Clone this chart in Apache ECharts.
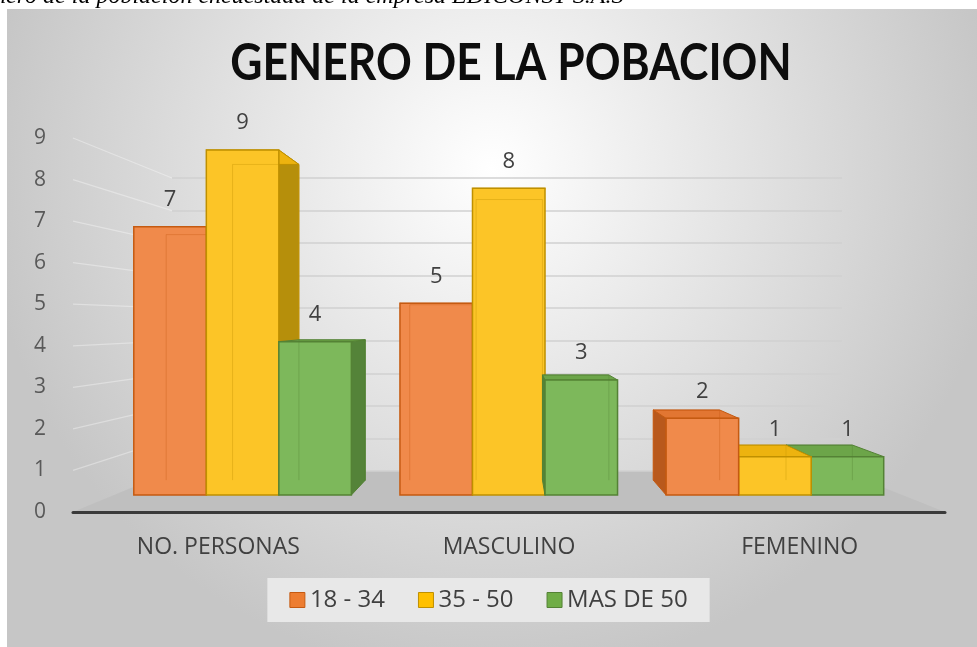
<!DOCTYPE html>
<html>
<head>
<meta charset="utf-8">
<script src="https://cdn.jsdelivr.net/npm/echarts@6/dist/echarts.min.js"></script>
<style>
  html, body { margin: 0; padding: 0; background: #fff; }
  #chart { width: 977px; height: 647px; }
</style>
</head>
<body>
<div id="chart"></div>
<script>
// datos del grafico
const categories = ['NO. PERSONAS', 'MASCULINO', 'FEMENINO']
const ageGroups = ['18 - 34', '35 - 50', 'MAS DE 50']
const joven = [7, 5, 2]      // 18 - 34
const adulto = [9, 8, 1]     // 35 - 50
const mayor = [4, 3, 1]      // MAS DE 50
const yMin = 0
const yMax = 9
const yStep = 1

const seriesValues = [joven, adulto, mayor]

// colores estilo excel 3D
const palette = [
  { front: '#F08A4B', side: '#B9591C', top: '#E27632', edge: '#C55A11', legend: '#ED7D31' },
  { front: '#FCC527', side: '#B68F0B', top: '#EDB30F', edge: '#BF9000', legend: '#FFC000' },
  { front: '#7DB85B', side: '#548339', top: '#6CA549', edge: '#548235', legend: '#70AD47' }
]

// planos: frente (ejes), barras, pared de fondo
const FRONT = { left: 73, right: 945, y0: 512, yTop: 138 }
const BARS = { left: 109.5, right: 908, y0: 495, yTop: 150 }
const BACK = { left: 172, right: 842, y0: 471, yTop: 178 }
const VP = [515, 320]     // punto de fuga
const DEPTH = 0.085
const BAR_FRAC = 0.2725
const FONT = '"Open Sans", "Noto Sans", sans-serif'

function gridOf (p) {
  return { left: p.left, width: p.right - p.left, top: p.yTop, height: p.y0 - p.yTop }
}

function recede (pt) {
  return [pt[0] + DEPTH * (VP[0] - pt[0]), pt[1] + DEPTH * (VP[1] - pt[1])]
}

function makeRender (k) {
  return function (params, api) {
    const cat = api.value(0)
    const v = api.value(1)
    const base = api.coord([cat, 0])
    const top = api.coord([cat, v])
    const band = api.size([1, 0])[0]
    const w = band * BAR_FRAC
    const x0 = base[0] + (k - 1.5) * w
    const x1 = x0 + w
    const yb = base[1]
    const yt = top[1]
    const c = palette[k]
    // orden de dibujo segun lado del punto de fuga
    const order = (base[0] < VP[0] + 10) ? k : 2 - k
    const z = order * 10

    const fTL = [x0, yt], fTR = [x1, yt], fBR = [x1, yb], fBL = [x0, yb]
    const bTL = recede(fTL), bTR = recede(fTR), bBR = recede(fBR), bBL = recede(fBL)

    const children = []
    if (bTR[0] > x1) {
      children.push({ type: 'polygon', z2: z + 1, shape: { points: [fTR, bTR, bBR, fBR] },
        style: { fill: c.side, stroke: c.edge, lineWidth: 1 } })
    }
    if (bTL[0] < x0) {
      children.push({ type: 'polygon', z2: z + 1, shape: { points: [fTL, bTL, bBL, fBL] },
        style: { fill: c.side, stroke: c.edge, lineWidth: 1 } })
    }
    children.push({ type: 'polygon', z2: z + 2, shape: { points: [fTL, fTR, bTR, bTL] },
      style: { fill: c.top, stroke: c.edge, lineWidth: 1 } })
    children.push({ type: 'rect', z2: z + 3, shape: { x: x0, y: yt, width: w, height: yb - yt },
      style: { fill: c.front, stroke: c.edge, lineWidth: 1.5 } })
    // aristas traseras vistas a traves de la barra
    children.push({ type: 'polyline', z2: z + 4, shape: { points: [bBL, bTL, bTR, bBR] },
      style: { stroke: c.edge, lineWidth: 1, opacity: 0.35, fill: null } })
    children.push({ type: 'text', z2: z + 5, style: {
      text: String(v), x: (x0 + x1) / 2, y: yt - 27, align: 'center', verticalAlign: 'middle',
      fill: '#404040', font: '22px ' + FONT } })
    return { type: 'group', children: children }
  }
}

const chart = echarts.init(document.getElementById('chart'))

// fondo, piso, pared lateral, titulo y leyenda de figura
const extras = []
extras.push({
  type: 'rect', z: -10, shape: { x: 7, y: 9, width: 970, height: 638 },
  style: { fill: new echarts.graphic.RadialGradient(0.5, 0.25, 0.8, [
    { offset: 0, color: '#ffffff' },
    { offset: 1, color: '#c6c6c6' }
  ]) }
})
extras.push({
  type: 'polygon', z: -6,
  shape: { points: [[FRONT.left, FRONT.y0], [FRONT.right, FRONT.y0], [BACK.right, BACK.y0], [BACK.left, BACK.y0]] },
  style: { fill: '#bfbfbf' }
})
for (let t = yMin + yStep; t <= yMax; t += yStep) {
  const f = (t - yMin) / (yMax - yMin)
  extras.push({
    type: 'line', z: -5,
    shape: {
      x1: FRONT.left, y1: FRONT.y0 - f * (FRONT.y0 - FRONT.yTop),
      x2: BACK.left, y2: BACK.y0 - f * (BACK.y0 - BACK.yTop)
    },
    style: { stroke: 'rgba(255,255,255,0.35)', lineWidth: 1.2 }
  })
}
extras.push({
  type: 'text', z: 10, left: -34, top: -15,
  style: { text: 'Género de la población encuestada de la empresa EDICONST S.A.S',
    font: 'italic 24px "Liberation Serif", serif', fill: '#000' }
})
extras.push({
  type: 'text', z: 10, x: 511, y: 64, scaleX: 0.87,
  style: { text: 'GENERO DE LA POBACION', align: 'center', verticalAlign: 'middle',
    font: 'bold 51px Lato, "Open Sans", sans-serif', fill: '#0d0d0d' }
})

chart.setOption({
  backgroundColor: '#ffffff',
  animation: false,
  legend: {
    left: 'center',
    top: 578,
    backgroundColor: '#e8e8e8',
    padding: [10, 22],
    itemWidth: 15,
    itemHeight: 15,
    itemGap: 33,
    icon: 'rect',
    textStyle: { fontSize: 24, color: '#404040', fontFamily: FONT },
    data: ageGroups.map((n, k) => ({
      name: n,
      itemStyle: { color: palette[k].legend, borderColor: palette[k].edge, borderWidth: 1 }
    }))
  },
  grid: [gridOf(FRONT), gridOf(BARS), gridOf(BACK)],
  xAxis: [
    {
      type: 'category', gridIndex: 0, data: categories,
      axisLine: { show: true, lineStyle: { color: '#3a3a3a', width: 3 } },
      axisTick: { show: false },
      axisLabel: { color: '#404040', fontSize: 23, fontFamily: FONT, margin: 24 }
    },
    { type: 'category', gridIndex: 1, data: categories, show: false },
    { type: 'category', gridIndex: 2, data: categories, show: false }
  ],
  yAxis: [
    {
      type: 'value', gridIndex: 0, min: yMin, max: yMax, interval: yStep,
      axisLine: { show: false }, axisTick: { show: false }, splitLine: { show: false },
      axisLabel: { color: '#595959', fontSize: 21, fontFamily: FONT, margin: 27 }
    },
    { type: 'value', gridIndex: 1, min: yMin, max: yMax, interval: yStep, show: false, splitLine: { show: false } },
    {
      type: 'value', gridIndex: 2, min: yMin, max: yMax, interval: yStep,
      axisLine: { show: false }, axisTick: { show: false }, axisLabel: { show: false },
      splitLine: { show: true, lineStyle: { color: '#d0d0d0', width: 1.5 } }
    }
  ],
  graphic: { elements: extras },
  series: seriesValues.map((vals, k) => ({
    type: 'custom',
    name: ageGroups[k],
    xAxisIndex: 1,
    yAxisIndex: 1,
    itemStyle: { color: palette[k].legend },
    renderItem: makeRender(k),
    data: vals.map((v, i) => [i, v])
  }))
})
</script>
</body>
</html>
